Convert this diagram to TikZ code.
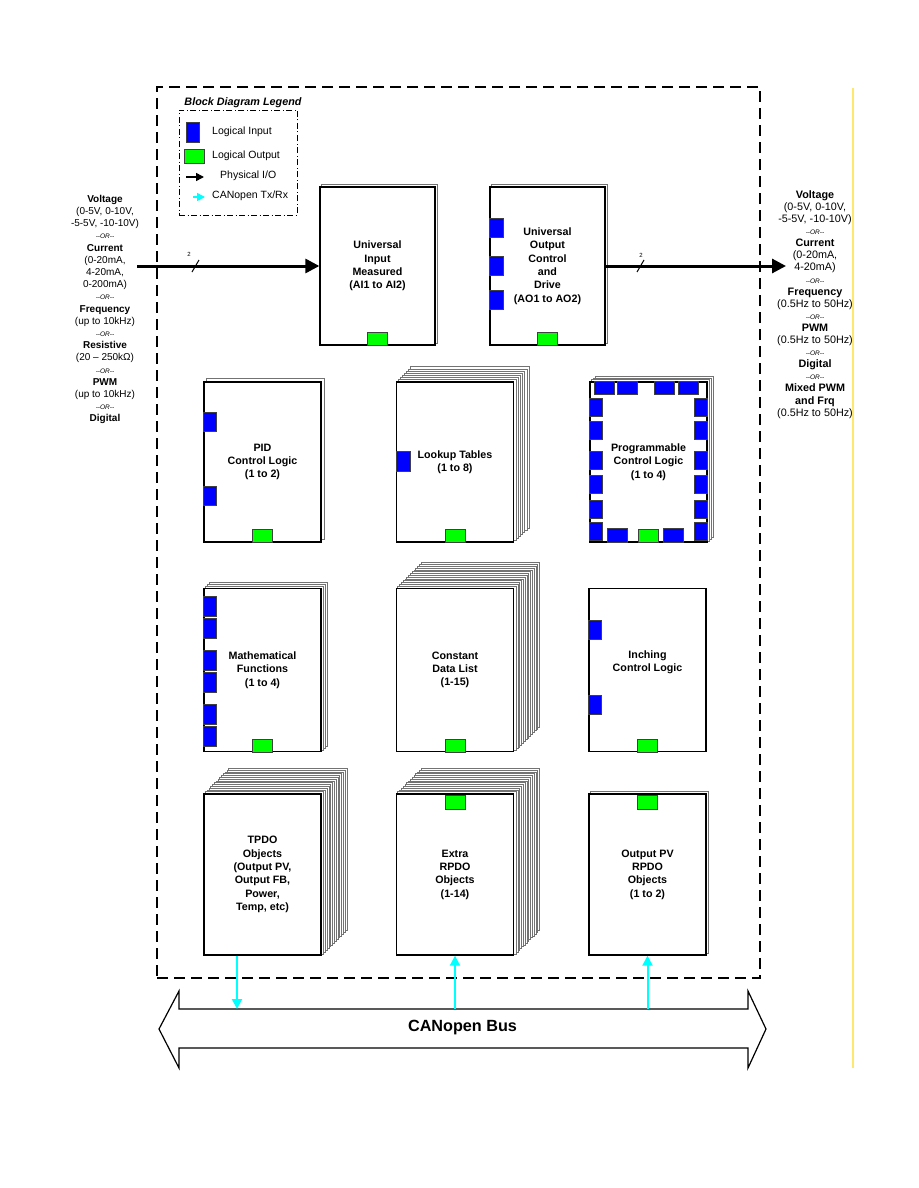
\documentclass[tikz,border=0pt]{standalone}
\usepackage{fontspec}
\setmainfont{Liberation Sans}
\usetikzlibrary{positioning, calc, arrows.meta, backgrounds}
\definecolor{canc}{RGB}{0,255,255}
\definecolor{inblue}{RGB}{0,0,255}
\definecolor{outgreen}{RGB}{0,255,0}
\definecolor{pageyellow}{RGB}{255,232,110}
\newcommand{\orsep}{{\fontsize{6.5}{12}\selectfont\itshape -{}-OR-{}-}}

\begin{document}
\begin{tikzpicture}[x=1pt, y=-1pt,
  blk/.style={draw, fill=white, line width=1.3pt, minimum width=117, minimum height=160, inner sep=0pt, align=center, font=\fontsize{10.7}{13.3}\selectfont\bfseries},
  page/.style={draw=black!55, fill=white, line width=0.4pt},
  lin/.style={draw=black!75, fill=inblue, line width=0.5pt},
  lout/.style={draw=black!75, fill=outgreen, line width=0.5pt},
  phys/.style={line width=3pt, -{Triangle[length=14pt, width=14pt]}},
  can/.style={canc, line width=2pt, -{Triangle[length=10pt, width=10pt]}},
  side/.style={align=center, inner sep=0pt, font=\fontsize{10}{12.2}\selectfont},
  legtext/.style={anchor=west, inner sep=0pt, font=\fontsize{10.5}{12}\selectfont},
  bits/.style={inner sep=0pt, font=\fontsize{6}{7}\selectfont}]
\useasboundingbox (0,0) rectangle (918,1188);

% outer frame and legend
\node[draw, dash pattern=on 11pt off 6pt, line width=1.3pt, minimum width=603, minimum height=891, inner sep=0pt] (frame) at (458.5,532.5) {};
\node[draw, dash pattern=on 6pt off 2.5pt on 1pt off 2.5pt, line width=0.8pt, minimum width=118, minimum height=105, inner sep=0pt] (legend) at (238,162.5) {};
\node[font=\fontsize{10.8}{12}\selectfont\bfseries\itshape] (legtitle) at (243,103) {Block Diagram Legend};
\draw[lin] (186,122) rectangle (199,142);
\node[legtext] (lgin) at (212,132) {Logical Input};
\draw[lout] (184,149) rectangle (204,163);
\node[legtext] (lgout) at (212,156) {Logical Output};
\coordinate (lgphys) at (186,177);
\draw[line width=1.5pt, -{Triangle[length=8pt, width=8pt]}] (lgphys) -- ++(18,0);
\node[legtext] (lgphystext) at (220,176) {Physical I/O};
\coordinate (lgcan) at (193,197);
\draw[canc, line width=1.5pt, -{Triangle[length=8pt, width=8pt]}] (lgcan) -- ++(12,0);
\node[legtext] (lgcantext) at (212,196) {CANopen Tx/Rx};

% blocks
\node[blk, minimum width=115, minimum height=158] (uin) at (377.5,266) {Universal\\Input\\Measured\\(AI1 to AI2)};
\node[blk, minimum width=115, minimum height=158] (uout) at (547.5,266) {Universal\\Output\\Control\\and\\Drive\\(AO1 to AO2)};
\node[blk] (pid) at (262.5,462) {PID\\Control Logic\\(1 to 2)};
\node[blk] (lookup) at (455,462) {Lookup Tables\\(1 to 8)};
\node[blk] (prog) at (648.5,462) {Programmable\\Control Logic\\(1 to 4)};
\node[blk, minimum height=163] (math) at (262.5,670) {Mathematical\\Functions\\(1 to 4)};
\node[blk, minimum height=163] (const) at (455,670) {Constant\\Data List\\(1-15)};
\node[blk, minimum height=163] (inch) at (647.5,670) {Inching\\Control Logic\\\strut};
\node[blk, minimum height=161] (tpdo) at (262.5,874.5) {TPDO\\Objects\\(Output PV,\\Output FB,\\Power,\\Temp, etc)};
\node[blk, minimum height=161] (xrpdo) at (455,874.5) {Extra\\RPDO\\Objects\\(1-14)};
\node[blk, minimum height=161] (pvrpdo) at (647.5,874.5) {Output PV\\RPDO\\Objects\\(1 to 2)};

% logical inputs and outputs
\foreach \nm in {uin,uout,pid,lookup,prog,math,const,inch}
  \draw[lout] ($(\nm.south)+(-10,0)$) rectangle ++(20,-13);
\foreach \nm in {xrpdo,pvrpdo}
  \draw[lout] ($(\nm.north)+(-10,2)$) rectangle ++(20,14);
\foreach \dy in {32,70,104}
  \draw[lin] ($(uout.north west)+(0,\dy)$) rectangle ++(14,19);
\foreach \dy in {31,105}
  \draw[lin] ($(pid.north west)+(0,\dy)$) rectangle ++(13,19);
\draw[lin] ($(lookup.north west)+(0,70)$) rectangle ++(14,20);
\foreach \dy in {8,30,62,84,116,138}
  \draw[lin] ($(math.north west)+(0,\dy)$) rectangle ++(13,20);
\foreach \dy in {32,107}
  \draw[lin] ($(inch.north west)+(0,\dy)$) rectangle ++(13,19);
\foreach \dy in {17,40,70,94,119,141} {
  \draw[lin] ($(prog.north west)+(0,\dy)$) rectangle ++(13,18);
  \draw[lin] ($(prog.north east)+(0,\dy)$) rectangle ++(-13,18);
}
\foreach \dx in {5,28,65,89}
  \draw[lin] ($(prog.north west)+(\dx,0)$) rectangle ++(20,13);
\foreach \dx in {18,74}
  \draw[lin] ($(prog.south west)+(\dx,0)$) rectangle ++(20,-14);

% physical i/o
\node[side] (insig) at (105,309.5) {\textbf{Voltage}\\(0-5V, 0-10V,\\-5-5V, -10-10V)\\\orsep\\\textbf{Current}\\(0-20mA,\\4-20mA,\\0-200mA)\\\orsep\\\textbf{Frequency}\\(up to 10kHz)\\\orsep\\\textbf{Resistive}\\(20 – 250kΩ)\\\orsep\\\textbf{PWM}\\(up to 10kHz)\\\orsep\\\textbf{Digital}};
\node[side, font=\fontsize{10.8}{12.1}\selectfont] (outsig) at (815,304.5) {\textbf{Voltage}\\(0-5V, 0-10V,\\-5-5V, -10-10V)\\\orsep\\\textbf{Current}\\(0-20mA,\\4-20mA)\\\orsep\\\textbf{Frequency}\\(0.5Hz to 50Hz)\\\orsep\\\textbf{PWM}\\(0.5Hz to 50Hz)\\\orsep\\\textbf{Digital}\\\orsep\\\textbf{Mixed PWM}\\\textbf{and Frq}\\(0.5Hz to 50Hz)};
\coordinate (insrc) at (137,266);
\coordinate (outdst) at (786,266);
\draw[phys] (insrc) -- (uin.west);
\draw[phys] (uout.east) -- (outdst);
\draw[line width=1pt] (192,272) -- (199,260);
\node[bits] (inbits) at (189,254) {2};
\draw[line width=1pt] (637,272) -- (644,260);
\node[bits] (outbits) at (641,255) {2};

% canopen bus
\draw[line width=1.2pt, fill=white] (159,1029) -- (179,991) -- (179,1009) -- (748,1009) -- (748,991) -- (766,1029) -- (748,1068) -- (748,1048) -- (179,1048) -- (179,1068) -- cycle;
\node[font=\fontsize{16.2}{19}\selectfont\bfseries] (bus) at (462.5,1028) {CANopen Bus};
\coordinate (bustop) at (462.5,1009);
\coordinate (tpdoout) at ([xshift=-25.5pt]tpdo.south);
\draw[can] (tpdoout) -- (tpdoout |- bustop);
\draw[can] (xrpdo.south |- bustop) -- (xrpdo.south);
\draw[can] (pvrpdo.south |- bustop) -- (pvrpdo.south);

\draw[pageyellow, line width=1.2pt] (853,88) -- (853,1068);

% stacked pages behind the blocks
\begin{pgfonlayer}{background}
\fill[white] (0,0) rectangle (918,1188);
\foreach \nm/\n/\d in {uin/1/2, uout/1/2, pid/1/3, lookup/7/2.1, prog/3/1.8, math/3/2, const/14/1.8, tpdo/14/1.8, xrpdo/14/1.8, pvrpdo/1/2}
  \foreach \k in {\n,...,1}
    \draw[page] ([shift={(\k*\d,-\k*\d)}]\nm.south west) rectangle ([shift={(\k*\d,-\k*\d)}]\nm.north east);
\end{pgfonlayer}
\end{tikzpicture}
\end{document}
